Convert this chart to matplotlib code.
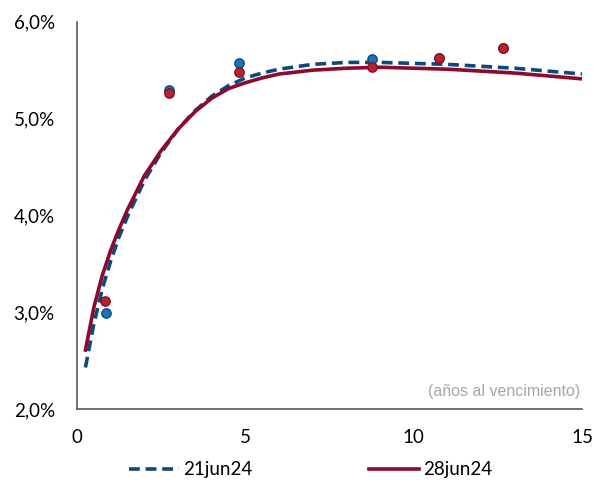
import matplotlib
matplotlib.use("Agg")
from matplotlib import pyplot as plt
from matplotlib.ticker import FuncFormatter

# curve readings (years, %)
plazo_curva_21 = [0.25, 0.5, 0.75, 1.0, 1.25, 1.5, 2.0, 2.5, 3.0, 3.5, 4.0, 4.5, 5.0, 5.5, 6.0, 7.0, 8.0, 9.0, 10.0, 11.0, 12.0, 13.0, 14.0, 15.0]
curva_21 = [2.43, 2.88, 3.24, 3.53, 3.78, 3.99, 4.36, 4.65, 4.89, 5.08, 5.23, 5.34, 5.42, 5.47, 5.51, 5.56, 5.58, 5.58, 5.57, 5.56, 5.54, 5.52, 5.49, 5.46]
plazo_curva_28 = [0.25, 0.5, 0.75, 1.0, 1.25, 1.5, 2.0, 2.5, 3.0, 3.5, 4.0, 4.5, 5.0, 5.5, 6.0, 7.0, 8.0, 9.0, 10.0, 11.0, 12.0, 13.0, 14.0, 15.0]
curva_28 = [2.61, 3.05, 3.38, 3.64, 3.86, 4.06, 4.41, 4.67, 4.89, 5.07, 5.21, 5.31, 5.37, 5.42, 5.46, 5.50, 5.52, 5.53, 5.52, 5.51, 5.49, 5.47, 5.44, 5.41]

# observed yields
plazo_obs_21 = [0.86, 2.73, 4.81, 8.76, 10.75, 12.65]
obs_21 = [2.99, 5.30, 5.57, 5.62, 5.63, 5.73]
plazo_obs_28 = [0.83, 2.73, 4.81, 8.76, 10.75, 12.65]
obs_28 = [3.12, 5.26, 5.48, 5.53, 5.63, 5.73]

etiquetas = ["21jun24", "28jun24"]

azul = "#0d4a7c"
rojo = "#8c0a2c"

plt.rcParams['font.family'] = ['Lato', 'DejaVu Sans']

fig = plt.figure(figsize=(5.97, 4.83), dpi=100)
ax = fig.add_axes([0.129, 0.153, 0.846, 0.802])

ax.scatter(plazo_obs_21, obs_21, s=45, color="#1a72b8", edgecolor="#0d4a7c", linewidth=1, zorder=3)
ax.scatter(plazo_obs_28, obs_28, s=45, color="#b3262a", edgecolor="#8c0a2c", linewidth=1, zorder=4)
l1, = ax.plot(plazo_curva_21, curva_21, color=azul, lw=2.6, ls=(0, (3, 1.6)), zorder=2)
l2, = ax.plot(plazo_curva_28, curva_28, color=rojo, lw=2.6, zorder=2)

ax.set_xlim(0, 15)
ax.set_ylim(2, 6)
ax.set_xticks([0, 5, 10, 15])
ax.set_yticks([2, 3, 4, 5, 6])
ax.yaxis.set_major_formatter(FuncFormatter(lambda v, p: f"{v:.1f}%".replace(".", ",")))
ax.tick_params(labelsize=13.5, length=0)
ax.tick_params(axis="x", pad=14)
ax.tick_params(axis="y", pad=16)
for s in ["top", "right"]:
    ax.spines[s].set_visible(False)
for s in ["left", "bottom"]:
    ax.spines[s].set_color("#595959")
    ax.spines[s].set_linewidth(1.2)

ax.text(14.95, 2.1, "(años al vencimiento)", ha="right", va="bottom", fontsize=11.5,
        color="#a6a6a6", family="Liberation Sans")

fig.legend([l1, l2], etiquetas, loc="lower center", bbox_to_anchor=(0.52, -0.025), ncol=2,
           frameon=False, fontsize=13.5, handlelength=2.7, handletextpad=0.2, columnspacing=6.2)

fig.savefig("out.png", dpi=100)
